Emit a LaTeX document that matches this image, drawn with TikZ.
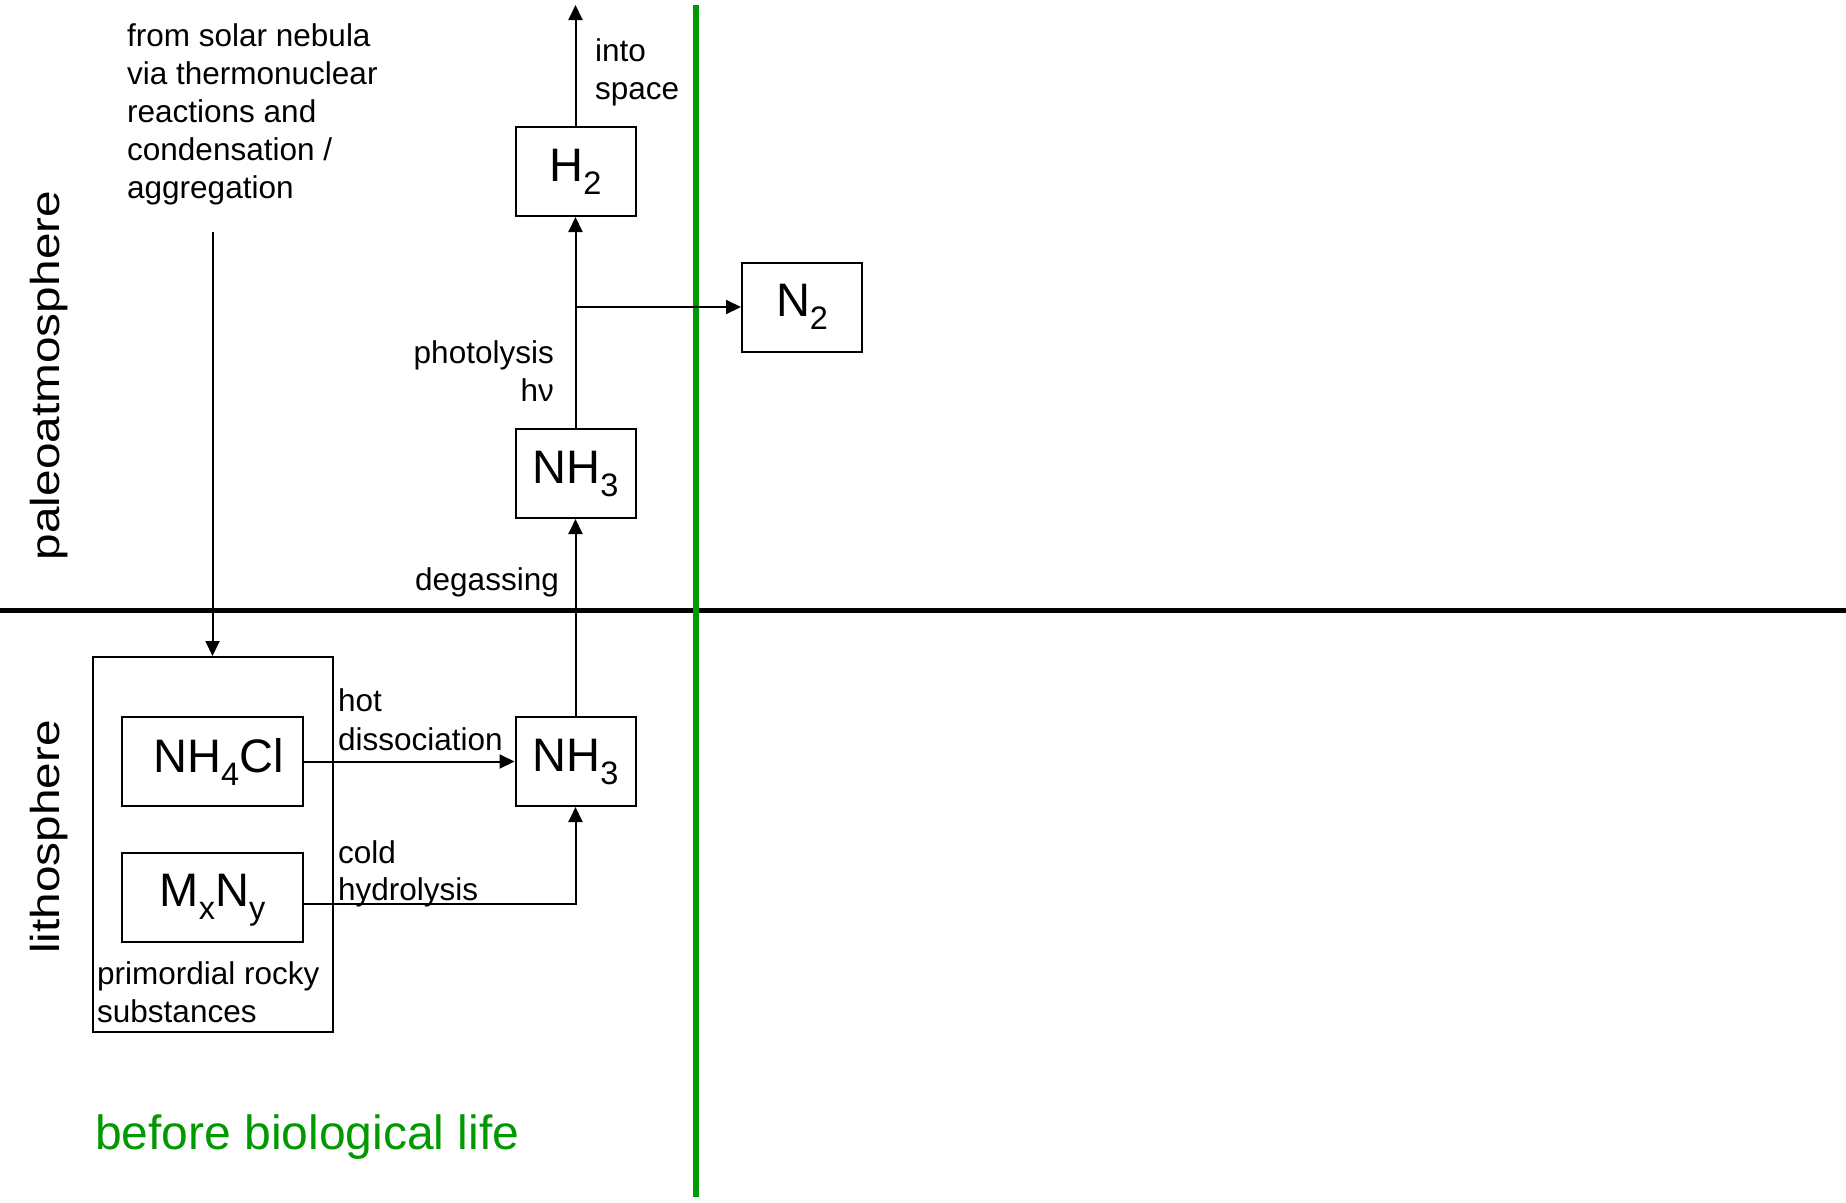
\documentclass[tikz,border=0pt]{standalone}
\usepackage{fontspec}
\setmainfont{Liberation Sans}
\newfontfamily\widefont[FakeStretch=1.18]{Liberation Sans}
\usetikzlibrary{arrows.meta}
\definecolor{lifegreen}{RGB}{0,153,0}
% chemical subscript with a fixed drop and depth
\newcommand\chsub[1]{\raisebox{-13pt}[0pt][13pt]{\fontsize{32.5}{32.5}\selectfont #1}}

\begin{document}
\begin{tikzpicture}[x=1pt,y=-1pt,
  species/.style={draw, line width=2pt, inner sep=0pt, minimum width=120pt,
    minimum height=89pt, font=\fontsize{47}{47}\selectfont},
  rockbox/.style={species, minimum width=181pt},
  lbl/.style={inner sep=0pt, anchor=base west, font=\fontsize{31.5}{37}\selectfont},
  lble/.style={lbl, anchor=base east},
  sphere/.style={inner sep=0pt, rotate=90, anchor=base,
    font=\widefont\fontsize{40.5}{40.5}\selectfont},
  flow/.style={line width=2pt, -{Triangle[length=15pt,width=14pt]}},
]
\useasboundingbox (0,0) rectangle (1846,1202);

% boundaries: atmosphere / lithosphere and before / after life
\draw[line width=5pt] (0,610) -- (1846,610);
\draw[lifegreen, line width=6pt] (696,5) -- (696,1197);

% sphere names
\node[sphere] (paleo) at (59.5,375.5) {paleoatmosphere};
\node[sphere] (litho) at (59.5,837) {lithosphere};

% species
\node[species] (h2) at (575.5,171.5) {H\chsub{2}};
\node[species] (n2) at (802,307) {N\chsub{2}};
\node[species] (nh3up) at (575.5,473.5) {NH\chsub{3}};
\node[species] (nh3low) at (575.5,761.5) {NH\chsub{3}};
\node[draw, line width=2pt, minimum width=240pt, minimum height=375pt] (rocky) at (212.5,844.5) {};
\node[rockbox] (nh4cl) at (212.5,761.5) {\hspace{12pt}NH\chsub{4}Cl};
\node[rockbox] (mxny) at (212.5,897) {M\chsub{x}N\chsub{y}};

% labels
\node[lbl] (neb1) at (127,46) {from solar nebula};
\node[lbl] (neb2) at (127,84) {via thermonuclear};
\node[lbl] (neb3) at (127,122) {reactions and};
\node[lbl] (neb4) at (127,160) {condensation /};
\node[lbl] (neb5) at (127,198) {aggregation};
\node[lbl] (into) at (595,61) {into};
\node[lbl] (spc) at (595,99) {space};
\node[lble] (photo) at (554,363) {photolysis};
\node[lble] (hnu) at (554,401.5) {hν};
\node[lbl] (degas) at (415,590) {degassing};
\node[lbl] (hot) at (338,711) {hot};
\node[lbl] (dissoc) at (338,750) {dissociation};
\node[lbl] (cold) at (338,863) {cold};
\node[lbl] (hydro) at (338,900) {hydrolysis};
\node[lbl] (prim) at (97,984) {primordial rocky};
\node[lbl] (subst) at (97,1022) {substances};
\node[lbl, text=lifegreen, font=\fontsize{48}{48}\selectfont] (life) at (95,1149) {before biological life};

% connectors
\coordinate (nebula) at (212.5,232);
\coordinate (space) at (575.5,5);
\coordinate (split) at (575.5,307);
\draw[flow] (nebula) -- (rocky.north);
\draw[flow] (h2.north) -- (space);
\draw[flow] (nh3up.north) -- (h2.south);
\draw[flow] (split) -- (n2.west);
\draw[flow] (nh3low.north) -- (nh3up.south);
\draw[flow] (nh4cl.east) -- (nh3low.west);
\draw[flow] ([yshift=-7pt]mxny.east) -| (nh3low.south);
\end{tikzpicture}
\end{document}
